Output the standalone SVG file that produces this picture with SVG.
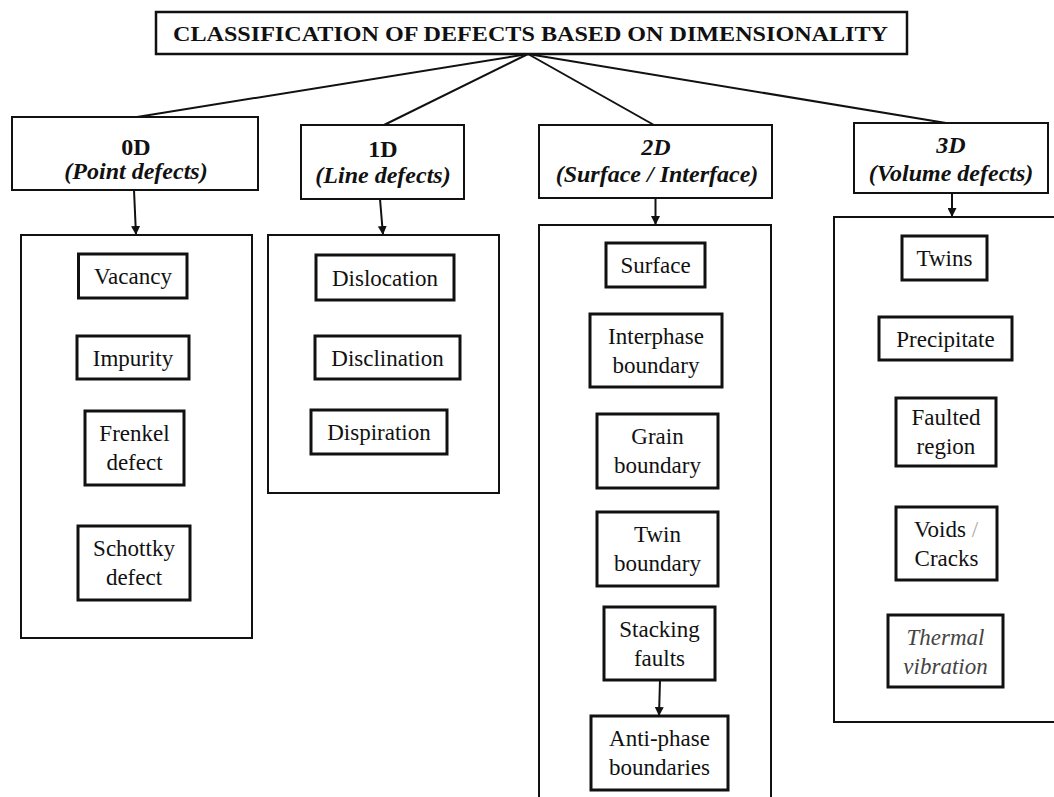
<svg xmlns="http://www.w3.org/2000/svg" width="1054" height="797" viewBox="0 0 1054 797">
<style>
text{font-family:"Liberation Serif","Times New Roman",serif;fill:#111;text-anchor:middle}
.title{font-weight:bold;font-size:22px}
.hd{font-size:24px;font-weight:bold}
.it{font-style:italic}
.ch{font-size:23px}
.hbox{fill:#fff;stroke:#111;stroke-width:2}
.tbox{fill:#fff;stroke:#111;stroke-width:2.5}
.cont{fill:none;stroke:#111;stroke-width:2}
.cbox{fill:#fff;stroke:#111;stroke-width:3}
.ln{stroke:#111;stroke-width:2;fill:none}
.ar{stroke:#111;stroke-width:2;fill:none;marker-end:url(#ah)}
</style>
<defs>
<marker id="ah" viewBox="0 0 10 10" refX="10" refY="5" markerWidth="4.5" markerHeight="4.5" orient="auto" markerUnits="strokeWidth">
<path d="M0,0 L10,5 L0,10 z" fill="#111"/>
</marker>
</defs>
<rect width="1054" height="797" fill="#fff"/>

<g id="connectors">
<line class="ln" x1="528" y1="54" x2="137" y2="117"/>
<line class="ln" x1="528" y1="54" x2="384" y2="125"/>
<line class="ln" x1="528" y1="54" x2="654" y2="125"/>
<line class="ln" x1="528" y1="54" x2="946" y2="123"/>
<line class="ar" x1="134" y1="190" x2="136" y2="235"/>
<line class="ar" x1="380" y1="199" x2="383" y2="235"/>
<line class="ar" x1="655.5" y1="198" x2="655.5" y2="225"/>
<line class="ar" x1="952" y1="193" x2="952" y2="217"/>
<line class="ar" x1="660" y1="680" x2="659" y2="716"/>
</g>

<g id="title">
<rect class="tbox" x="156" y="12" width="751" height="42"/>
<text class="title" x="530.5" y="41" textLength="715" lengthAdjust="spacingAndGlyphs">CLASSIFICATION OF DEFECTS BASED ON DIMENSIONALITY</text>
</g>

<g id="h0d">
<rect class="hbox" x="12" y="117" width="246" height="73"/>
<text class="hd" x="136" y="155">0D</text>
<text class="hd it" x="136" y="179">(Point defects)</text>
</g>
<g id="h1d">
<rect class="hbox" x="301" y="125" width="163" height="74"/>
<text class="hd" x="383" y="157">1D</text>
<text class="hd it" x="383" y="183">(Line defects)</text>
</g>
<g id="h2d">
<rect class="hbox" x="539" y="125" width="233" height="73"/>
<text class="hd it" x="656" y="155">2D</text>
<text class="hd it" x="657" y="182">(Surface / Interface)</text>
</g>
<g id="h3d">
<rect class="hbox" x="854" y="123" width="194" height="70"/>
<text class="hd it" x="951" y="153">3D</text>
<text class="hd it" x="951" y="181">(Volume defects)</text>
</g>

<g id="c0d"><rect class="cont" x="21" y="235" width="231" height="403"/></g>
<g id="c1d"><rect class="cont" x="268" y="235" width="231" height="258"/></g>
<g id="c2d"><rect class="cont" x="539" y="225" width="232" height="590"/></g>
<g id="c3d"><rect class="cont" x="834" y="217" width="230" height="505"/></g>

<g id="vacancy"><rect class="cbox" x="78.5" y="254" width="108.5" height="44"/><text class="ch" x="133" y="284">Vacancy</text></g>
<g id="impurity"><rect class="cbox" x="77" y="336" width="112" height="43"/><text class="ch" x="133" y="365.5">Impurity</text></g>
<g id="frenkel"><rect class="cbox" x="85" y="411" width="99" height="74"/><text class="ch" x="134.5" y="441">Frenkel</text><text class="ch" x="134.5" y="470">defect</text></g>
<g id="schottky"><rect class="cbox" x="78" y="526" width="112" height="74"/><text class="ch" x="134" y="556">Schottky</text><text class="ch" x="134" y="585">defect</text></g>

<g id="dislocation"><rect class="cbox" x="316" y="255" width="138" height="45"/><text class="ch" x="385" y="285.5">Dislocation</text></g>
<g id="disclination"><rect class="cbox" x="315" y="336" width="145" height="43"/><text class="ch" x="387.5" y="365.5">Disclination</text></g>
<g id="dispiration"><rect class="cbox" x="311" y="410" width="136" height="44"/><text class="ch" x="379" y="440">Dispiration</text></g>

<g id="surface"><rect class="cbox" x="606" y="243" width="99" height="44"/><text class="ch" x="655.5" y="273">Surface</text></g>
<g id="interphase"><rect class="cbox" x="590" y="314" width="132" height="73"/><text class="ch" x="656" y="344">Interphase</text><text class="ch" x="656" y="373">boundary</text></g>
<g id="grain"><rect class="cbox" x="597" y="414" width="121" height="74"/><text class="ch" x="657.5" y="444">Grain</text><text class="ch" x="657.5" y="473">boundary</text></g>
<g id="twinb"><rect class="cbox" x="597" y="512" width="121" height="74"/><text class="ch" x="657.5" y="542">Twin</text><text class="ch" x="657.5" y="571">boundary</text></g>
<g id="stacking"><rect class="cbox" x="604" y="607" width="111" height="73"/><text class="ch" x="659.5" y="637">Stacking</text><text class="ch" x="659.5" y="666">faults</text></g>
<g id="antiphase"><rect class="cbox" x="591" y="716" width="137" height="74"/><text class="ch" x="659.5" y="746">Anti-phase</text><text class="ch" x="659.5" y="775">boundaries</text></g>

<g id="twins"><rect class="cbox" x="902" y="236" width="85" height="44"/><text class="ch" x="944.5" y="266">Twins</text></g>
<g id="precipitate"><rect class="cbox" x="879" y="317" width="133" height="43"/><text class="ch" x="945.5" y="346.5">Precipitate</text></g>
<g id="faulted"><rect class="cbox" x="896" y="398" width="100" height="68"/><text class="ch" x="946" y="425">Faulted</text><text class="ch" x="946" y="454">region</text></g>
<g id="voids"><rect class="cbox" x="896" y="507" width="101" height="73"/><text class="ch" x="946" y="537">Voids <tspan fill="#aaa">/</tspan></text><text class="ch" x="946.5" y="566">Cracks</text></g>
<g id="thermal"><rect class="cbox" x="888" y="615" width="115" height="72"/><text class="ch it" x="945.5" y="645" fill="#444" style="fill:#444">Thermal</text><text class="ch it" x="945.5" y="674" style="fill:#444">vibration</text></g>
</svg>
